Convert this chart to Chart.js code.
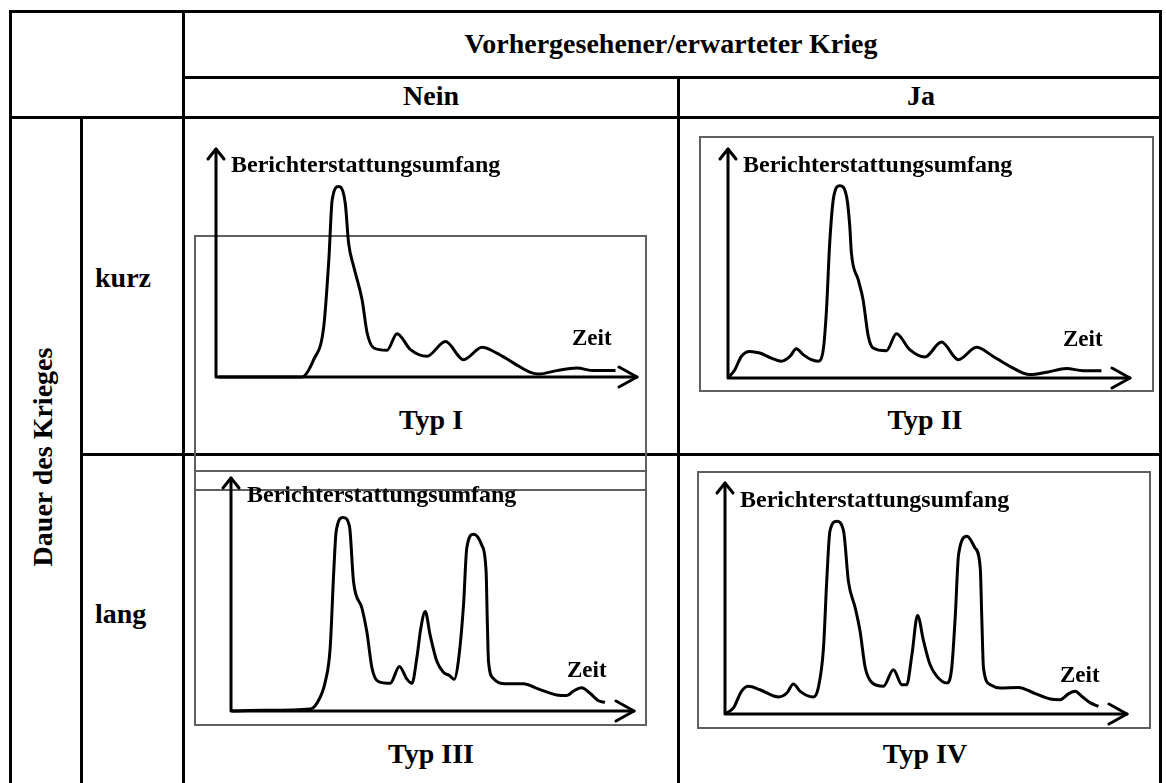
<!DOCTYPE html>
<html>
<head>
<meta charset="utf-8">
<script src="https://cdn.jsdelivr.net/npm/chart.js@4.4.0/dist/chart.umd.min.js"></script>
<style>
  html, body { margin: 0; padding: 0; background: #fff; }
  body { width: 1166px; height: 783px; position: relative; overflow: hidden; font-family: "Liberation Serif", "Times New Roman", serif; font-weight: bold; color: #000; }
  .hl, .vl { position: absolute; background: #000; }
  .box { position: absolute; border: 2px solid #606060; box-sizing: border-box; }
  .txt { position: absolute; white-space: nowrap; }
  canvas { position: absolute; }
</style>
</head>
<body>
<script>
// x positions along the time axis (0..100) and coverage values (0..100)
const typ1Zeit = [0.6, 20.4, 23.2, 25.6, 26.8, 27.6, 29.1, 30.7, 31.5, 32.7, 34.7, 35.9, 37.5, 40.6, 43.0, 46.2, 50.1, 54.5, 58.8, 63.2, 66.7, 70.7, 74.7, 76.6, 81.0, 85.7, 89.7, 94.9];
const typ1Umfang = [0, 0, 7.6, 22.2, 51.4, 77.7, 83.5, 76.2, 58.7, 48.5, 33.9, 19.3, 12.7, 11.7, 19.0, 12.0, 9.1, 15.6, 7.6, 13.0, 10.5, 6.1, 2.0, 1.3, 2.8, 3.9, 2.8, 2.9];

const typ2Zeit = [0, 1.7, 3.3, 5.4, 7.9, 10.8, 13.3, 15.4, 17.0, 18.7, 20.7, 22.4, 23.7, 24.5, 25.3, 26.3, 27.8, 29.5, 30.3, 30.7, 32.4, 33.6, 34.9, 36.1, 39.4, 41.9, 45.2, 49.0, 53.1, 57.3, 61.8, 66.0, 70.1, 75.1, 79.3, 84.2, 88.4, 92.9];
const typ2Umfang = [0, 3.6, 9.4, 11.6, 10.9, 8.7, 7.3, 9.4, 12.8, 10.2, 8.0, 7.3, 12.4, 29.8, 58.9, 79.2, 84.0, 79.2, 66.1, 54.5, 42.9, 34.2, 18.2, 13.1, 11.9, 19.3, 12.4, 9.2, 15.7, 8.0, 13.4, 9.4, 5.1, 1.5, 2.5, 4.1, 3.2, 3.2];

const typ3Zeit = [0.2, 8.1, 19.7, 21.3, 23.4, 24.6, 25.5, 26.1, 27.8, 29.4, 30.4, 32.5, 33.7, 35.0, 36.6, 39.5, 41.8, 43.6, 44.9, 46.1, 47.1, 48.2, 49.4, 51.1, 52.7, 54.2, 55.4, 56.4, 57.7, 58.5, 60.2, 62.2, 63.3, 63.6, 63.9, 65.1, 68.0, 72.6, 75.9, 80.8, 83.3, 85.0, 87.0, 89.1, 91.2, 92.8];
const typ3Umfang = [0, 0.3, 0.9, 3.3, 12.6, 26.9, 59.9, 77.1, 83.1, 79.2, 55.6, 44.1, 34.1, 18.3, 12.6, 11.9, 19.1, 13.8, 11.9, 22.6, 35.5, 42.7, 32.7, 21.2, 16.6, 15.2, 13.6, 21.2, 45.6, 69.9, 75.9, 71.3, 59.9, 38.4, 21.2, 14.0, 11.7, 11.7, 9.7, 6.9, 6.6, 8.6, 10.0, 7.6, 4.4, 3.7];

const typ4Zeit = [0, 2.1, 4.1, 5.8, 8.7, 13.3, 15.4, 17.0, 18.7, 22.0, 23.2, 24.5, 25.3, 26.1, 27.8, 29.5, 30.7, 32.4, 33.6, 34.9, 36.5, 39.4, 41.9, 44.0, 45.2, 46.5, 47.9, 49.4, 51.0, 52.7, 55.2, 56.4, 57.3, 58.1, 60.2, 62.2, 63.5, 63.9, 64.3, 66.0, 68.5, 73.0, 76.8, 80.9, 83.4, 85.5, 87.1, 88.8, 90.9, 92.9];
const typ4Umfang = [0, 2.6, 9.8, 12.0, 10.5, 7.4, 9.1, 13.0, 9.8, 7.4, 11.3, 28.6, 57.4, 79.1, 83.4, 79.1, 57.4, 45.9, 35.8, 19.9, 13.7, 12.0, 19.2, 12.7, 12.7, 25.7, 42.6, 31.5, 21.4, 16.3, 13.4, 19.9, 43.0, 69.0, 76.9, 71.9, 63.2, 40.1, 19.9, 12.7, 11.3, 11.5, 9.1, 6.5, 6.2, 8.8, 9.8, 7.6, 4.8, 3.3];

const spaltenTitel = 'Vorhergesehener/erwarteter Krieg';
const spalten = ['Nein', 'Ja'];
const zeilenTitel = 'Dauer des Krieges';
const zeilen = ['kurz', 'lang'];
const typen = ['Typ I', 'Typ II', 'Typ III', 'Typ IV'];
const yTitel = 'Berichterstattungsumfang';
const xTitel = 'Zeit';

const PAD = 12;

function line(cls, x, y, w, h) {
  const d = document.createElement('div');
  d.className = cls;
  d.style.left = x + 'px';
  d.style.top = y + 'px';
  d.style.width = w + 'px';
  d.style.height = h + 'px';
  document.body.appendChild(d);
}

function text(str, x, baseline, size, center) {
  const d = document.createElement('div');
  d.className = 'txt';
  d.textContent = str;
  d.style.fontSize = size + 'px';
  d.style.lineHeight = size + 'px';
  d.style.left = x + 'px';
  d.style.top = (baseline - 0.8375 * size) + 'px';
  if (center) d.style.transform = 'translateX(-50%)';
  document.body.appendChild(d);
  return d;
}

function box(x1, y1, x2, y2) {
  const d = document.createElement('div');
  d.className = 'box';
  d.style.left = x1 + 'px';
  d.style.top = y1 + 'px';
  d.style.width = (x2 - x1) + 'px';
  d.style.height = (y2 - y1) + 'px';
  document.body.appendChild(d);
}

// table grid
const T = 3;
line('hl', 9, 10, 1153, T);
line('hl', 182, 76, 980, T);
line('hl', 9, 116, 1153, T);
line('hl', 80, 453, 1082, T);
line('vl', 9, 10, T, 800);
line('vl', 80, 116, T, 700);
line('vl', 182, 10, T, 800);
line('vl', 677, 76, T, 720);
line('vl', 1159, 10, T, 800);

// headers
text(spaltenTitel, 671, 53, 28, true);
text(spalten[0], 431, 105, 28, true);
text(spalten[1], 921, 105, 28, true);
text(zeilen[0], 95, 287, 28, false);
text(zeilen[1], 95, 623, 28, false);
const rot = text(zeilenTitel, 0, 0, 28, false);
rot.style.left = '43px';
rot.style.top = '457px';
rot.style.lineHeight = '28px';
rot.style.transform = 'translate(-50%, -50%) rotate(-90deg)';

// grey frames
box(194, 235, 647, 491);
box(194, 470, 647, 726);
box(699, 136, 1154, 392);
box(697, 471, 1151, 729);

const arrowAxes = {
  id: 'arrowAxes',
  afterDatasetsDraw(chart) {
    const { ctx, scales: { x, y } } = chart;
    const x0 = x.getPixelForValue(0), x1 = x.getPixelForValue(100);
    const y0 = y.getPixelForValue(0), y1 = y.getPixelForValue(100);
    ctx.save();
    ctx.strokeStyle = '#000';
    ctx.lineWidth = 3;
    ctx.lineCap = 'round';
    ctx.lineJoin = 'round';
    ctx.beginPath();
    ctx.moveTo(x0, y1);
    ctx.lineTo(x0, y0);
    ctx.lineTo(x1, y0);
    ctx.stroke();
    ctx.beginPath();
    ctx.moveTo(x0 - 8, y1 + 10);
    ctx.lineTo(x0, y1);
    ctx.lineTo(x0 + 8, y1 + 10);
    ctx.stroke();
    ctx.beginPath();
    ctx.moveTo(x1 - 18, y0 - 10);
    ctx.lineTo(x1, y0);
    ctx.lineTo(x1 - 18, y0 + 10);
    ctx.stroke();
    ctx.restore();
  }
};

function drawChart(zeit, umfang, axisX, tipY, baseY, tipX) {
  const c = document.createElement('canvas');
  const w = tipX - axisX + 2 * PAD;
  const h = baseY - tipY + 2 * PAD;
  c.width = w;
  c.height = h;
  c.style.width = w + 'px';
  c.style.height = h + 'px';
  c.style.left = (axisX - PAD) + 'px';
  c.style.top = (tipY - PAD) + 'px';
  document.body.appendChild(c);
  new Chart(c.getContext('2d'), {
    type: 'line',
    data: {
      datasets: [{
        data: zeit.map((z, i) => ({ x: z, y: umfang[i] })),
        borderColor: '#000',
        borderWidth: 3,
        pointRadius: 0,
        cubicInterpolationMode: 'monotone',
        fill: false,
        clip: false
      }]
    },
    options: {
      responsive: false,
      animation: false,
      devicePixelRatio: 1,
      layout: { padding: PAD },
      plugins: { legend: { display: false }, tooltip: { enabled: false } },
      scales: {
        x: { type: 'linear', min: 0, max: 100, display: false },
        y: { type: 'linear', min: 0, max: 100, display: false }
      }
    },
    plugins: [arrowAxes]
  });
}

drawChart(typ1Zeit, typ1Umfang, 216, 149, 377, 637);
drawChart(typ2Zeit, typ2Umfang, 728, 149, 378, 1130);
drawChart(typ3Zeit, typ3Umfang, 231, 478, 711, 634);
drawChart(typ4Zeit, typ4Umfang, 725, 483, 714, 1127);

// axis labels and type names
text(yTitel, 231, 172, 24, false);
text(yTitel, 743, 172, 24, false);
text(yTitel, 247, 502, 24, false);
text(yTitel, 740, 507, 24, false);
text(xTitel, 572, 345, 23, false);
text(xTitel, 1063, 346, 23, false);
text(xTitel, 567, 677, 23, false);
text(xTitel, 1060, 682, 23, false);
text(typen[0], 431, 429, 28, true);
text(typen[1], 925, 429, 28, true);
text(typen[2], 431, 763, 28, true);
text(typen[3], 925, 763, 28, true);
</script>
</body>
</html>
